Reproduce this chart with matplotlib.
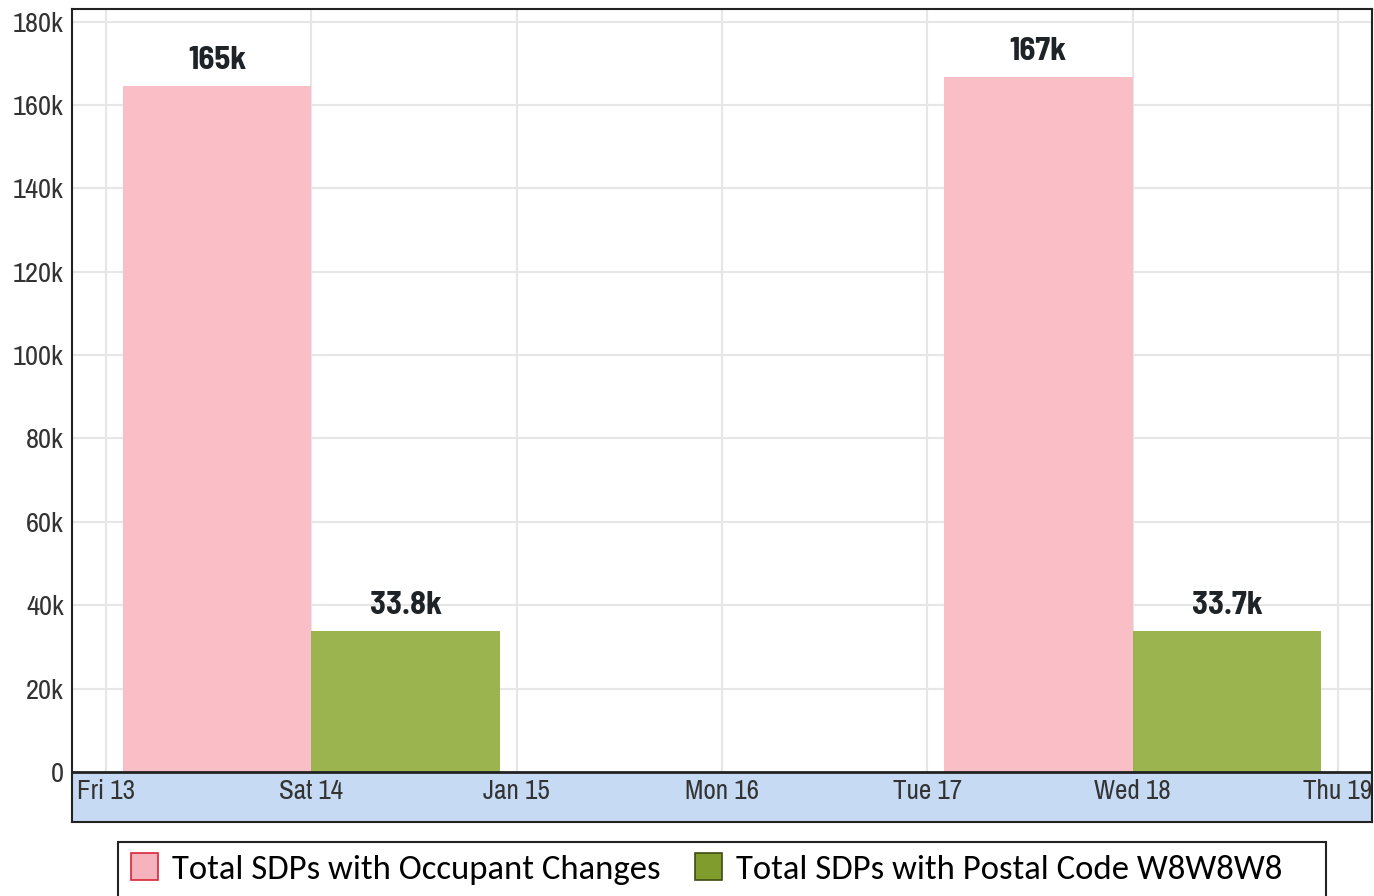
import matplotlib
matplotlib.use("Agg")
import matplotlib.pyplot as plt
from matplotlib.patches import Patch, Rectangle

# data
day_labels = ['Fri 13', 'Sat 14', 'Jan 15', 'Mon 16', 'Tue 17', 'Wed 18', 'Thu 19']
group_days = [1, 5]              # Sat 14, Wed 18
occupant_changes = [164.6e3, 166.6e3]
postal_w8w8w8 = [33.8e3, 33.7e3]
y_ticks = [0, 20e3, 40e3, 60e3, 80e3, 100e3, 120e3, 140e3, 160e3, 180e3]
series_names = ['Total SDPs with Occupant Changes', 'Total SDPs with Postal Code W8W8W8']

pink = '#f9bec6'
green = '#9bb450'
band = '#c6daf3'
narrow = ['Archivo Narrow', 'DejaVu Sans']
narrow_bold = ['Barlow Semi Condensed', 'DejaVu Sans']
legend_font = ['Carlito', 'Lato', 'DejaVu Sans']

W, H = 1374, 896
fig = plt.figure(figsize=(W / 100, H / 100), dpi=100)
ax = fig.add_axes([72 / W, 1 - 822 / H, 1300 / W, 813 / H])

ax.set_xlim(-0.166, 6.166)
ax.set_ylim(-12e3, 183e3)

# grid only over the plot area
for d in range(len(day_labels)):
    ax.axvline(d, color='#e6e6e6', lw=1.5, zorder=0.5)
for t in y_ticks[1:]:
    ax.axhline(t, color='#e6e6e6', lw=1.5, zorder=0.5)

# x axis band
ax.axhspan(-12e3, 0, color=band, zorder=1)
ax.axhline(0, color='#222222', lw=2, zorder=3)

w = 0.92
b1 = ax.bar(group_days, occupant_changes, width=-w, align='edge', color=pink, zorder=2)
b2 = ax.bar(group_days, postal_w8w8w8, width=w, align='edge', color=green, zorder=2)

for bars in (b1, b2):
    for r in bars:
        v = r.get_height()
        ax.annotate(f'{v / 1000:.3g}k', (r.get_x() + r.get_width() / 2, v),
                    xytext=(0, 8), textcoords='offset points', ha='center', va='bottom',
                    fontsize=23.5, fontweight='bold', color='#1e2328', family=narrow_bold)

for d, lab in enumerate(day_labels):
    ax.text(d, -4.8e3, lab, ha='center', va='center', fontsize=19.5, color='#333333',
            family=narrow, clip_on=True, zorder=4)

ax.set_xticks([])
ax.set_yticks(y_ticks)
ax.set_yticklabels(['0'] + [f'{int(t / 1000)}k' for t in y_ticks[1:]], family=narrow)
ax.tick_params(axis='y', length=0, pad=6, labelsize=20.5, labelcolor='#333333')

for s in ax.spines.values():
    s.set_linewidth(1.5)
    s.set_color('#222222')

# legend, with a wider box drawn behind it
fig.patches.append(Rectangle((118 / W, -0.02), 1208 / W, 1 - 842 / H + 0.02, transform=fig.transFigure,
                             facecolor='white', edgecolor='#222222', lw=1.5, zorder=0))
handles = [Patch(facecolor='#f7b3bd', edgecolor='#d9263a', lw=1.2),
           Patch(facecolor='#7f9c2c', edgecolor='#3d4d10', lw=1.2)]
fig.legend(handles, series_names, loc='center left', bbox_to_anchor=(131 / W, 1 - 869 / H),
           ncol=2, frameon=False, prop={'family': legend_font, 'size': 25},
           handlelength=0.78, handleheight=0.8, handletextpad=0.4, columnspacing=1.0,
           borderpad=0, borderaxespad=0)

fig.savefig('out.png', dpi=100)
